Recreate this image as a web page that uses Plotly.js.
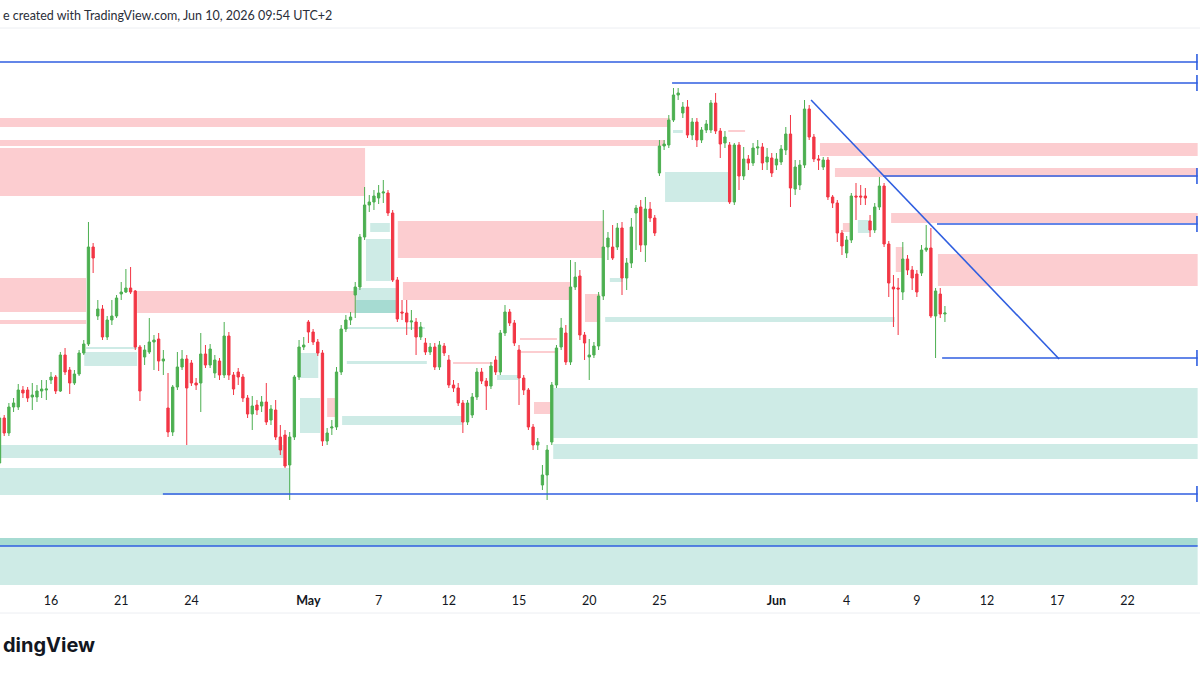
<!DOCTYPE html>
<html>
<head>
<meta charset="utf-8">
<script src="https://cdn.plot.ly/plotly-3.0.1.min.js"></script>
<style>
html,body{margin:0;padding:0;background:#fff;overflow:hidden;}
#chart{width:1200px;height:675px;}
</style>
</head>
<body>
<div id="chart"></div>
<script>
// ---- Candles (5 bars per trading day; index 0 = first bar of Apr 16) ----
const firstBarIndex = -11;
const open = [237,282,267,293,293,310,310,303,303,309,310,320,323,309,345,330,317,326,347,356,453,384,391,363,380,384,406,408,412,409,353,343,348,358,361,339,292,268,313,333,341,337,317,317,346,335,327,339,325,364,325,328,323,302,286,295,294,298,280,290,263,265,235,
263,323,353,378,368,358,347,259,272,273,328,371,380,405,413,463,495,498,502,507,507,487,420,388,387,378,378,363,357,348,353,333,354,340,315,312,297,278,285,303,328,319,314,340,328,367,388,377,350,322,310,273,255,215,225,258,315,353,367,338,413,
424,365,343,345,354,404,453,453,453,472,422,437,487,493,455,491,482,527,554,555,580,605,587,593,565,578,560,570,570,597,569,557,555,498,555,524,541,537,552,553,538,542,535,538,550,566,511,515,535,591,563,541,533,540,503,497,467,447,460,504,504,504,479,470,493,514,456,413,412,408,441,430,426,427,450,452,384,406,386];
const high = [288,285,297,302,316,314,313,317,315,320,320,328,325,348,352,333,330,350,360,478,457,400,395,384,400,405,418,431,433,410,355,355,382,365,367,350,327,315,348,350,345,340,322,367,355,356,345,342,378,368,328,332,326,305,304,300,304,317,295,300,275,270,268,
325,360,363,380,371,361,350,272,280,333,375,385,388,418,466,513,505,510,515,520,510,490,423,400,400,390,382,378,362,357,357,359,357,345,320,317,300,300,307,332,332,322,338,344,370,395,391,380,355,325,312,276,262,235,255,318,355,382,375,440,438,
430,368,361,358,408,490,468,475,477,478,442,482,495,500,503,498,485,560,560,585,612,612,598,600,582,582,573,580,600,607,572,569,558,557,558,553,545,557,560,557,552,547,547,555,573,585,540,540,600,595,566,545,543,543,505,500,470,464,507,517,515,512,485,497,523,517,459,425,422,458,445,434,430,455,475,472,412,412,394];
const low = [234,264,264,288,290,302,298,290,298,302,300,316,306,308,325,306,315,324,345,354,427,380,360,360,375,382,400,407,406,350,299,335,346,330,329,325,263,264,310,330,255,314,310,288,332,332,322,320,322,320,305,315,298,282,270,285,288,275,275,260,245,232,200,
260,320,350,357,355,344,254,255,265,270,325,368,375,382,410,460,488,490,496,497,484,418,378,380,365,370,345,360,345,345,330,330,344,312,308,294,267,275,282,300,316,290,311,325,325,364,374,354,295,305,270,250,250,210,200,255,312,350,335,335,410,
360,340,320,342,350,400,440,440,450,405,410,432,450,448,438,478,464,524,550,552,578,600,582,562,560,553,557,567,567,566,542,552,496,495,510,520,530,534,545,530,530,523,530,535,545,493,505,510,532,560,538,530,530,500,492,458,445,442,457,480,495,495,463,467,490,453,403,373,365,400,425,410,403,424,448,382,342,382,378];
const close = [282,267,293,297,310,307,302,305,309,311,311,323,309,345,328,317,326,347,356,453,442,391,363,380,384,402,408,412,408,353,309,350,358,360,339,341,268,313,333,341,312,317,315,346,335,351,340,325,364,325,311,323,302,286,294,290,298,278,291,263,250,234,263,
323,353,355,368,358,347,259,267,273,328,371,380,383,413,463,495,498,504,507,508,487,420,381,387,378,379,363,373,348,353,333,355,347,315,312,297,278,297,303,328,319,314,334,328,367,388,377,357,322,310,273,255,258,225,250,315,352,372,338,413,423,
365,357,345,354,404,453,462,442,472,422,437,473,492,455,491,482,467,554,556,580,605,607,593,565,578,560,570,576,597,569,556,563,498,555,524,541,537,552,553,537,543,527,541,551,566,512,533,535,591,563,541,540,540,503,497,467,454,460,504,503,503,502,470,493,514,456,417,411,411,441,430,422,408,450,452,384,409,386,387];

// ---- Date axis (trading-day index of each label) ----
const tickDays = [0,3,6,11,14,17,20,23,26,31,34,37,40,43,46];
const tickLabels = ['16','21','24','<b>May</b>','7','12','15','20','25','<b>Jun</b>','4','9','12','17','22'];
const barsPerDay = 5;

// ---- Zones: [fromBar, toBar, lowPrice, highPrice] ----
const supplyZones = [
  [-10.9,132.3,573,582],[-10.9,131.2,554,560],[-10.9,67.1,504,552],
  [-10.9,7.5,388,422],[-10.9,7.5,376,380],[18.4,65.2,387,409],
  [74.1,118.2,442,479],[75.2,110.9,400,418],[164.3,245,544,557],
  [167.5,245,523,532],[179.5,245,477,487],[189.5,245,414,446],
  [114.1,117.3,378,406],[103.2,106.8,286,298],[100.2,108.1,360,362],
  [100.2,108.1,347,349],[144.7,148.3,568,570],[59,60.7,283,302],
  [85.9,94.4,336,338],[180.5,182.1,428,453],[169.2,170.7,468,477]
];
const demandZones = [
  [-10.9,50.0,242,255],[-10.9,51.1,205,232],[7.1,18.4,334,348],[7.5,18.4,351,353],
  [67.3,72.6,419,461],[65.2,73.7,387,412],[65.2,73.7,387,400],[68.2,72.4,468,477],
  [63.2,80.3,336,339],[63.2,79.9,371,373],[62.2,88.0,275,284],
  [107.3,245,262,312],[107.3,245,241,256],[-10.9,245,100,162],[-10.9,245,154,162],
  [131.2,145.1,498,528],[118.4,180.3,378,383],[53.2,57.1,322,347],[53.2,57.5,267,302],
  [95.3,99.8,320,325],[172.4,175.0,467,480],[132.9,135.0,567,570],[119.4,122.2,418,422]
];
// ---- Horizontal levels: [fromBar, toBar, price, endMark] ----
const levels = [
  [-10.9,245,638,1],[132.7,245,617,1],[177.8,245,524,1],[189.3,245,476,1],
  [190.4,245,342,1],[23.9,245,206,1],[-10.9,245,154,0]
];
// ---- Trend line: [bar, price] points ----
const trendLine = [[162.4,600],[215.4,341]];

const xs = open.map((_, i) => i + firstBarIndex);

const shapes = [];
supplyZones.forEach(z => shapes.push({type:'rect',xref:'x',yref:'y',x0:z[0],x1:z[1],y0:z[2],y1:z[3],
  fillcolor:'rgba(242,54,69,0.25)',line:{width:0},layer:'below'}));
demandZones.forEach(z => shapes.push({type:'rect',xref:'x',yref:'y',x0:z[0],x1:z[1],y0:z[2],y1:z[3],
  fillcolor:'rgba(8,153,129,0.2)',line:{width:0},layer:'below'}));
const blue = '#2f5ee0';
levels.forEach(l => {
  shapes.push({type:'line',xref:'x',yref:'y',x0:l[0],x1:l[1],y0:l[2],y1:l[2],line:{color:blue,width:1.6},layer:'above'});
  if (l[3]) shapes.push({type:'line',xref:'x',yref:'y',x0:l[1]-0.15,x1:l[1]-0.15,y0:l[2]-8,y1:l[2]+8,line:{color:blue,width:1.6},layer:'above'});
});
shapes.push({type:'line',xref:'x',yref:'y',x0:trendLine[0][0],y0:trendLine[0][1],x1:trendLine[1][0],y1:trendLine[1][1],
  line:{color:blue,width:1.6},layer:'above'});
// frame lines (header separator and time-scale bottom)
shapes.push({type:'line',xref:'paper',yref:'paper',x0:0,x1:1,y0:1.0036,y1:1.0036,line:{color:'#eceef2',width:1}});
shapes.push({type:'line',xref:'paper',yref:'paper',x0:0,x1:1,y0:-0.0505,y1:-0.0505,line:{color:'#eceef2',width:1}});

const trace = {
  type:'candlestick', x:xs, open:open, high:high, low:low, close:close,
  increasing:{line:{color:'#4caf50',width:1},fillcolor:'#4caf50'},
  decreasing:{line:{color:'#f23645',width:1},fillcolor:'#f23645'},
  hoverinfo:'skip', showlegend:false
};

const layout = {
  width:1200, height:675,
  margin:{l:0,r:0,t:30,b:90},
  paper_bgcolor:'#ffffff', plot_bgcolor:'#ffffff',
  showlegend:false,
  xaxis:{range:[-10.9,245.5], rangeslider:{visible:false}, showgrid:false, zeroline:false, showline:false,
    tickmode:'array', tickvals:tickDays.map(d => d*barsPerDay), ticktext:tickLabels, ticks:'',
    tickfont:{family:'Lato, "DejaVu Sans", sans-serif', size:12.5, color:'#131722'}, ticklabelstandoff:6, fixedrange:true},
  yaxis:{range:[115,670], visible:false, showgrid:false, zeroline:false, fixedrange:true},
  shapes:shapes,
  annotations:[
    {xref:'paper',yref:'paper',x:0.0005,y:1.027,xanchor:'left',yanchor:'middle',showarrow:false,
     text:'e created with TradingView.com, Jun 10, 2026 09:54 UTC+2',
     font:{family:'Lato, "DejaVu Sans", sans-serif',size:12.5,color:'#2a2e39'}},
    {xref:'paper',yref:'paper',x:0.001,y:-0.108,xanchor:'left',yanchor:'middle',showarrow:false,
     text:'<b>dingView</b>',
     font:{family:'Inter, Roboto, sans-serif',size:20,color:'#131722'}}
  ]
};

Plotly.newPlot('chart',[trace],layout,{displayModeBar:false,staticPlot:true});
</script>
</body>
</html>
